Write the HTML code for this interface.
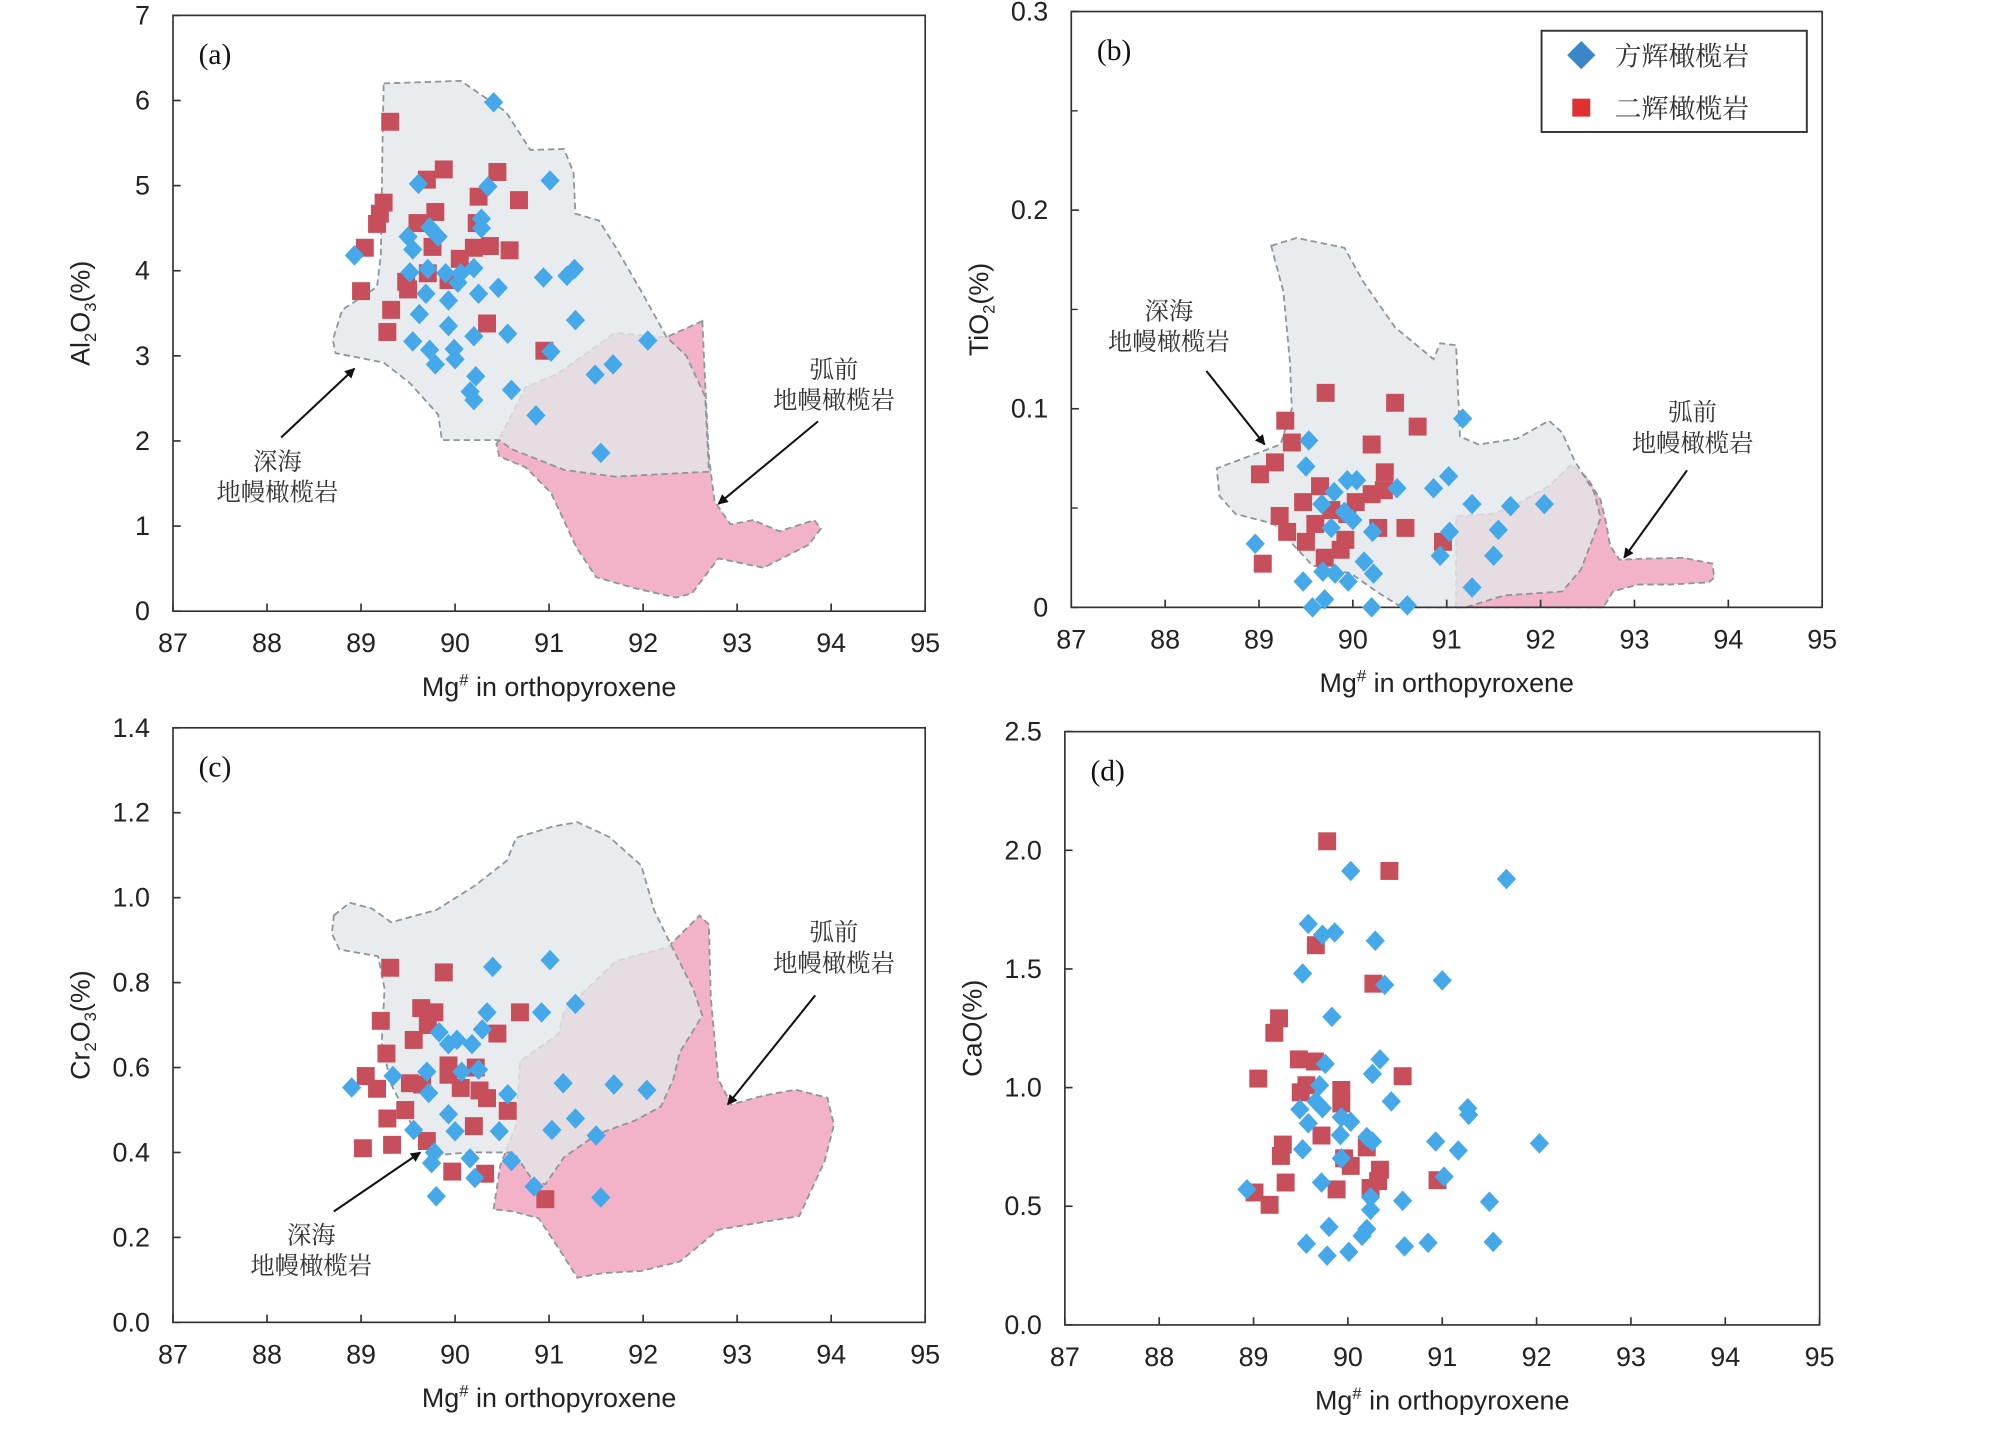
<!DOCTYPE html>
<html><head><meta charset="utf-8"><style>
html,body{margin:0;padding:0;background:#fff;}
svg{display:block;}
text{font-family:"Liberation Sans","Noto Sans CJK SC",sans-serif;fill:#222;}
.cjk{font-family:"Noto Serif CJK SC","Noto Sans CJK SC",serif;fill:#333;}
.lab{font-family:"Liberation Serif",serif;fill:#111;}
</style></head><body>
<svg id="fig" xmlns="http://www.w3.org/2000/svg" width="2008" height="1431" viewBox="0 0 1567 1116.8" preserveAspectRatio="none">
<defs><marker id="ah" viewBox="0 0 10 10" refX="9" refY="5" markerWidth="5" markerHeight="5" orient="auto"><path d="M0,0 L10,5 L0,10 z" fill="#111"/></marker></defs>
</svg>
<script>
// ---- data ----
const xTicks = [87,88,89,90,91,92,93,94,95];
const aYTicks = [0,1,2,3,4,5,6,7];
const bYTicks = [0,0.1,0.2,0.3];
const cYTicks = [0,0.2,0.4,0.6,0.8,1.0,1.2,1.4];
const dYTicks = [0,0.5,1.0,1.5,2.0,2.5];
const aBlue = [[90.41,5.98],[89.61,5.02],[91.01,5.06],[90.35,4.99],[90.28,4.61],[90.28,4.5],[89.5,4.4],[89.55,4.25],[89.73,4.51],[89.82,4.4],[88.93,4.18],[89.52,3.98],[89.71,4.02],[89.69,3.73],[89.93,3.65],[89.9,3.97],[90.06,3.97],[90.2,4.03],[90.03,3.86],[90.25,3.73],[90.46,3.8],[90.94,3.92],[91.19,3.94],[91.27,4.02],[89.62,3.49],[89.93,3.35],[91.28,3.42],[89.55,3.17],[89.73,3.07],[89.99,3.08],[90.0,2.96],[89.79,2.9],[90.2,3.23],[90.56,3.26],[91.02,3.05],[92.05,3.18],[90.22,2.76],[90.16,2.58],[90.2,2.48],[90.6,2.6],[91.49,2.78],[91.68,2.9],[90.86,2.3],[91.55,1.86]];
const aRed = [[89.31,5.75],[89.7,5.07],[89.88,5.19],[90.45,5.16],[89.24,4.8],[89.2,4.67],[89.17,4.55],[89.6,4.56],[89.79,4.69],[90.68,4.83],[90.25,4.87],[90.23,4.56],[89.04,4.27],[89.76,4.28],[90.05,4.14],[90.2,4.27],[90.37,4.29],[90.58,4.24],[89.0,3.76],[89.48,3.87],[89.5,3.78],[89.71,3.97],[89.93,3.89],[89.32,3.54],[89.28,3.28],[90.34,3.38],[90.95,3.06]];
const bBlue = [[89.53,0.084],[89.5,0.071],[89.94,0.064],[90.04,0.064],[89.8,0.058],[90.47,0.06],[90.86,0.06],[91.02,0.066],[91.17,0.095],[91.27,0.052],[91.68,0.051],[92.04,0.052],[91.55,0.039],[91.5,0.026],[91.27,0.01],[91.03,0.038],[90.93,0.026],[88.96,0.032],[89.77,0.04],[90.0,0.044],[90.21,0.038],[89.47,0.013],[89.68,0.018],[89.81,0.017],[89.95,0.013],[90.12,0.023],[90.22,0.017],[89.57,0.0],[89.7,0.004],[90.2,0.0],[90.58,0.001],[89.67,0.052],[89.91,0.048]];
const bRed = [[89.71,0.108],[90.45,0.103],[90.69,0.091],[89.28,0.094],[89.35,0.083],[90.2,0.082],[89.17,0.073],[89.01,0.067],[90.34,0.068],[89.65,0.061],[89.47,0.053],[89.22,0.046],[89.3,0.038],[89.6,0.042],[89.5,0.033],[89.77,0.049],[89.94,0.047],[90.03,0.053],[90.2,0.057],[90.33,0.059],[89.92,0.034],[89.87,0.029],[89.7,0.025],[90.27,0.04],[90.56,0.04],[90.96,0.033],[89.04,0.022]];
const cBlue = [[90.4,0.837],[91.01,0.853],[90.34,0.73],[90.92,0.73],[91.28,0.75],[89.83,0.683],[90.29,0.69],[89.93,0.655],[90.02,0.665],[90.18,0.655],[88.9,0.553],[89.34,0.58],[89.7,0.59],[90.07,0.59],[90.25,0.595],[89.72,0.54],[90.56,0.537],[91.15,0.563],[91.69,0.56],[92.04,0.547],[89.93,0.49],[90.0,0.45],[90.47,0.45],[89.56,0.453],[91.28,0.48],[91.03,0.453],[91.5,0.44],[89.78,0.4],[89.75,0.375],[90.16,0.386],[90.21,0.34],[90.6,0.38],[90.84,0.32],[89.8,0.297],[91.55,0.294]];
const cRed = [[89.31,0.835],[89.88,0.824],[89.21,0.71],[89.64,0.74],[89.78,0.73],[89.71,0.70],[90.69,0.73],[90.45,0.68],[89.56,0.665],[89.27,0.633],[89.93,0.605],[90.22,0.6],[89.05,0.58],[89.17,0.55],[89.52,0.563],[89.65,0.56],[89.93,0.583],[90.06,0.552],[90.26,0.546],[90.34,0.528],[90.56,0.498],[89.47,0.5],[89.28,0.48],[90.2,0.462],[89.02,0.41],[89.33,0.418],[89.7,0.427],[89.97,0.355],[90.32,0.35],[90.96,0.29]];
const dBlue = [[90.03,1.913],[91.68,1.879],[89.58,1.69],[89.86,1.654],[89.73,1.644],[90.29,1.619],[89.52,1.481],[90.39,1.433],[91.0,1.452],[89.83,1.298],[89.76,1.1],[90.34,1.119],[90.26,1.058],[89.7,1.01],[90.46,0.942],[89.66,0.942],[89.49,0.908],[89.73,0.913],[91.27,0.913],[91.28,0.885],[89.58,0.85],[89.93,0.875],[90.03,0.856],[89.92,0.8],[90.2,0.792],[90.26,0.773],[90.93,0.773],[92.03,0.765],[91.17,0.735],[89.52,0.74],[89.93,0.702],[89.72,0.6],[91.02,0.625],[88.93,0.571],[90.24,0.538],[90.24,0.485],[90.58,0.523],[91.5,0.519],[89.8,0.413],[90.2,0.404],[90.15,0.375],[89.56,0.342],[90.6,0.331],[90.85,0.346],[91.54,0.35],[89.78,0.292],[90.01,0.308]];
const dRed = [[89.78,2.038],[90.44,1.913],[89.66,1.6],[90.27,1.438],[89.27,1.292],[89.22,1.231],[89.48,1.119],[89.65,1.11],[89.05,1.038],[90.58,1.048],[89.56,1.01],[89.5,0.98],[89.93,0.99],[89.93,0.933],[89.72,0.798],[89.31,0.76],[89.29,0.712],[90.2,0.748],[89.96,0.702],[90.03,0.67],[90.34,0.654],[90.32,0.606],[90.95,0.61],[89.34,0.6],[89.01,0.558],[89.88,0.571],[90.24,0.577],[89.17,0.506]];
const aGrey = [[89.24,6.20],[90.06,6.23],[90.54,5.87],[90.80,5.42],[91.16,5.43],[91.26,5.15],[91.28,4.67],[91.53,4.59],[91.70,4.29],[91.98,3.76],[92.25,3.22],[92.46,3.00],[92.66,2.52],[92.70,1.64],[91.70,1.58],[91.16,1.66],[90.61,1.90],[90.47,2.01],[89.86,2.01],[89.82,2.31],[89.52,2.68],[89.24,2.92],[88.97,2.98],[88.73,3.03],[88.70,3.19],[88.80,3.54],[89.17,3.81],[89.21,4.18],[89.23,5.58]];
const aPink = [[92.63,3.41],[92.66,2.68],[92.70,1.82],[92.76,1.29],[92.93,1.02],[93.17,1.07],[93.45,0.94],[93.82,1.07],[93.89,0.97],[93.76,0.78],[93.28,0.51],[92.80,0.62],[92.52,0.21],[92.35,0.16],[91.91,0.27],[91.50,0.40],[91.29,0.75],[91.02,1.39],[90.75,1.69],[90.47,1.82],[90.44,1.96],[90.75,2.63],[91.09,2.79],[91.70,3.27],[92.25,3.22]];
const bGrey = [[89.13,0.182],[89.40,0.186],[89.91,0.181],[90.11,0.164],[90.45,0.141],[90.86,0.125],[90.93,0.133],[91.10,0.132],[91.14,0.086],[91.34,0.082],[91.75,0.085],[92.09,0.094],[92.23,0.088],[92.36,0.074],[92.57,0.058],[92.64,0.045],[92.43,0.019],[92.23,0.008],[91.61,0.006],[91.20,0],[90.52,0],[90.25,0.008],[89.98,0.017],[89.57,0.021],[89.16,0.042],[88.75,0.047],[88.58,0.056],[88.55,0.070],[88.89,0.076],[89.23,0.082],[89.35,0.1],[89.33,0.123],[89.26,0.159]];
const bPink = [[91.10,0],[91.10,0.046],[91.48,0.047],[91.75,0.052],[92.09,0.061],[92.33,0.072],[92.50,0.065],[92.64,0.054],[92.70,0.042],[92.74,0.031],[92.84,0.024],[93.11,0.0245],[93.52,0.025],[93.83,0.022],[93.85,0.015],[93.79,0.0126],[93.38,0.0115],[93.04,0.0115],[92.77,0.008],[92.67,0]];
const cGrey = [[88.71,0.958],[88.88,0.988],[89.12,0.974],[89.32,0.942],[89.80,0.971],[90.21,1.028],[90.55,1.087],[90.65,1.141],[91.03,1.167],[91.30,1.178],[91.64,1.143],[91.98,1.076],[92.12,0.969],[92.26,0.905],[92.53,0.786],[92.63,0.722],[92.39,0.636],[92.32,0.572],[92.19,0.508],[91.91,0.475],[91.51,0.443],[91.16,0.389],[90.96,0.325],[90.82,0.336],[90.69,0.379],[90.62,0.4],[90.14,0.4],[89.87,0.395],[89.59,0.443],[89.32,0.561],[89.22,0.658],[89.25,0.786],[89.18,0.862],[88.77,0.878],[88.69,0.915]];
const cPink = [[90.41,0.266],[90.48,0.368],[90.65,0.465],[90.69,0.615],[91.10,0.679],[91.16,0.733],[91.71,0.851],[92.26,0.883],[92.60,0.958],[92.70,0.937],[92.72,0.765],[92.80,0.572],[92.94,0.513],[93.28,0.534],[93.62,0.548],[93.96,0.529],[94.03,0.465],[93.93,0.379],[93.66,0.25],[93.35,0.239],[92.80,0.218],[92.39,0.143],[91.98,0.121],[91.57,0.116],[91.30,0.105],[91.10,0.175],[90.89,0.245],[90.62,0.261]];

const SVGNS = "http://www.w3.org/2000/svg";
const svg = document.getElementById('fig');
function mk(tag, attrs, parent){const e=document.createElementNS(SVGNS,tag);for(const k in attrs)e.setAttribute(k,attrs[k]);(parent||svg).appendChild(e);return e;}

function panel(o){
  const g = mk('g',{});
  
  
  const sx = v => o.x0 + (v - 87) / 8 * (o.x1 - o.x0);
  const sy = v => o.y0 - (v - o.ymin) / (o.ymax - o.ymin) * (o.y0 - o.y1);
  const poly = (pts, fill, nm) => {
    const p = mk('polygon',{points: pts.map(q => sx(q[0]).toFixed(1)+','+sy(q[1]).toFixed(1)).join(' '), fill: fill, stroke:'#8e959b', 'stroke-width':1.4, 'stroke-dasharray':'5,3'}, g);
    
    
  };
  if (o.pink) poly(o.pink, '#f2b3c8', 'forearc-mantle-field');
  if (o.grey) poly(o.grey, 'rgba(226,231,234,0.8)', 'abyssal-mantle-field');
  const fr = mk('rect',{x:o.x0,y:o.y1,width:o.x1-o.x0,height:o.y0-o.y1,fill:'none',stroke:'#333','stroke-width':1.3},g);
  
  
  xTicks.forEach(t => {
    mk('line',{x1:sx(t),x2:sx(t),y1:o.y0,y2:o.y0-6,stroke:'#333','stroke-width':1.3},g);
    const tx = mk('text',{x:sx(t),y:o.y0+32,'text-anchor':'middle','font-size':21},g);
    tx.textContent = t;
    
    
  });
  o.yTicks.forEach(t => {
    mk('line',{x1:o.x0,x2:o.x0+6,y1:sy(t),y2:sy(t),stroke:'#333','stroke-width':1.3},g);
    const ty = mk('text',{x:o.x0-18,y:sy(t)+7,'text-anchor':'end','font-size':21},g);
    ty.textContent = o.fmt(t);
    
    
  });
  (o.minor||[]).forEach(t => mk('line',{x1:o.x0,x2:o.x0+5,y1:sy(t),y2:sy(t),stroke:'#333','stroke-width':1.1},g));
  const xt = mk('text',{x:(o.x0+o.x1)/2,y:o.y0+66,'text-anchor':'middle','font-size':21},g);
  xt.innerHTML = 'Mg<tspan dy="-8" font-size="13">#</tspan><tspan dy="8"> in orthopyroxene</tspan>';
  
  
  const yt = mk('text',{transform:`translate(${o.x0-65},${(o.y0+o.y1)/2}) rotate(-90)`,'text-anchor':'middle','font-size':21},g);
  yt.innerHTML = o.ytitle;
  
  
  const pl = mk('text',{x:o.x0+20,y:o.y1+38,'font-size':23,class:'lab'},g);
  pl.textContent = o.label;
  
  
  (o.ann||[]).forEach(a => {
    a.lines.forEach((s,i) => {
      const t = mk('text',{x:sx(a.x),y:sy(a.y)+i*24,'text-anchor':'middle','font-size':19,class:'cjk'},g);
      t.textContent = s;
      
      
    });
    const ar = mk('line',{x1:sx(a.ax1),y1:sy(a.ay1),x2:sx(a.ax2),y2:sy(a.ay2),stroke:'#111','stroke-width':1.6,'marker-end':'url(#ah)'},g);
    
    
  });
  o.red.forEach(p => {
    const r = mk('rect',{x:sx(p[0])-7,y:sy(p[1])-7,width:14,height:14,fill:'#c74f5b'},g);
    
    
  });
  o.blue.forEach(p => {
    const cx = sx(p[0]), cy = sy(p[1]);
    const d = mk('polygon',{points:`${cx},${cy-8} ${cx+7.5},${cy} ${cx},${cy+8} ${cx-7.5},${cy}`,fill:'#45a8e8'},g);
    
    
  });
}

const f0 = t => String(t), f1 = t => t.toFixed(1);
panel({name:'panel-a',x0:135,x1:722,y0:477,y1:12,ymin:0,ymax:7,yTicks:aYTicks,fmt:f0,label:'(a)',
  ytitle:'Al<tspan dy="5" font-size="13">2</tspan><tspan dy="-5">O</tspan><tspan dy="5" font-size="13">3</tspan><tspan dy="-5">(%)</tspan>',
  grey:aGrey,pink:aPink,blue:aBlue,red:aRed,
  ann:[{x:88.11,y:1.66,lines:['深海','地幔橄榄岩'],ax1:88.15,ay1:2.04,ax2:88.93,ay2:2.85},
       {x:94.03,y:2.74,lines:['弧前','地幔橄榄岩'],ax1:93.86,ay1:2.23,ax2:92.8,ay2:1.26}]});
panel({name:'panel-b',x0:836,x1:1422,y0:474,y1:9,ymin:0,ymax:0.3,yTicks:bYTicks,minor:[0.05,0.15,0.25],fmt:t=>t===0?'0':t.toFixed(1),label:'(b)',
  ytitle:'TiO<tspan dy="5" font-size="13">2</tspan><tspan dy="-5">(%)</tspan>',
  grey:bGrey,pink:bPink,blue:bBlue,red:bRed,
  ann:[{x:88.04,y:0.145,lines:['深海','地幔橄榄岩'],ax1:88.44,ay1:0.119,ax2:89.06,ay2:0.082},
       {x:93.62,y:0.094,lines:['弧前','地幔橄榄岩'],ax1:93.56,ay1:0.069,ax2:92.89,ay2:0.025}]});
panel({name:'panel-c',x0:135,x1:722,y0:1032,y1:568,ymin:0,ymax:1.4,yTicks:cYTicks,fmt:f1,label:'(c)',
  ytitle:'Cr<tspan dy="5" font-size="13">2</tspan><tspan dy="-5">O</tspan><tspan dy="5" font-size="13">3</tspan><tspan dy="-5">(%)</tspan>',
  grey:cGrey,pink:cPink,blue:cBlue,red:cRed,
  ann:[{x:88.47,y:0.186,lines:['深海','地幔橄榄岩'],ax1:88.71,ay1:0.261,ax2:89.63,ay2:0.4},
       {x:94.03,y:0.899,lines:['弧前','地幔橄榄岩'],ax1:93.83,ay1:0.77,ax2:92.9,ay2:0.513}]});
panel({name:'panel-d',x0:831,x1:1420,y0:1034,y1:571,ymin:0,ymax:2.5,yTicks:dYTicks,fmt:f1,label:'(d)',
  ytitle:'CaO(%)',blue:dBlue,red:dRed,ann:[]});

const lg = mk('g',{});


mk('rect',{x:1203,y:24,width:207,height:79,fill:'#fff',stroke:'#333','stroke-width':1.5},lg);
mk('polygon',{points:'1234,32 1245,43 1234,54 1223,43',fill:'#3a87c8'},lg);
mk('rect',{x:1227,y:77,width:14,height:14,fill:'#e03030'},lg);
const l1 = mk('text',{x:1260,y:51,'font-size':21,class:'cjk'},lg); l1.textContent='方辉橄榄岩';


const l2 = mk('text',{x:1260,y:92,'font-size':21,class:'cjk'},lg); l2.textContent='二辉橄榄岩';


</script>
</body></html>
